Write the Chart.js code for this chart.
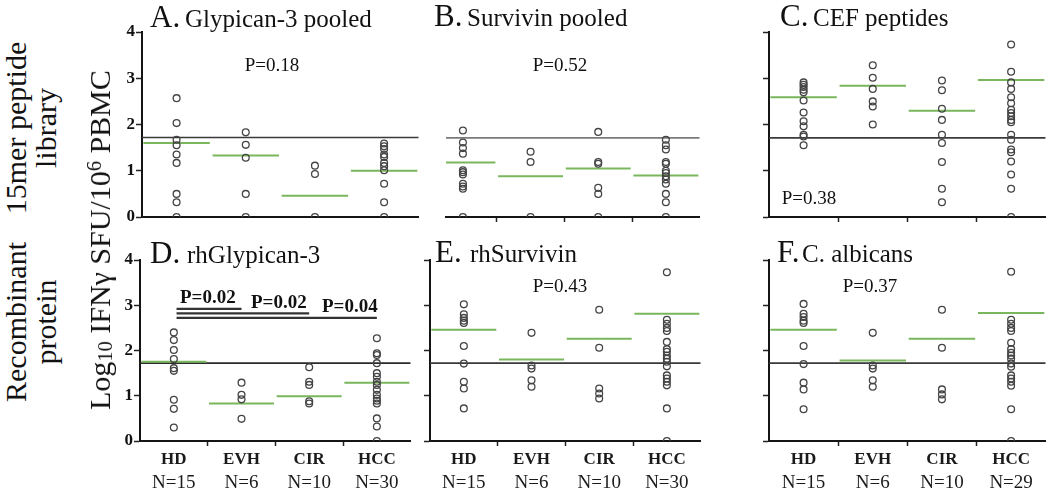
<!DOCTYPE html>
<html><head><meta charset="utf-8">
<script src="https://cdn.jsdelivr.net/npm/chart.js@4.4.1/dist/chart.umd.min.js"></script>
<style>
html,body{margin:0;padding:0;background:#fff;}
#root{position:relative;width:1050px;height:494px;overflow:hidden;background:#fff;font-family:"Liberation Serif","Times New Roman",serif;color:#111;}
#root canvas{position:absolute;}
.t{position:absolute;white-space:nowrap;line-height:1;}
.rot{position:absolute;white-space:nowrap;transform:translate(-50%,-50%) rotate(-90deg);text-align:center;}
sub{font-size:68%;vertical-align:-0.12em;line-height:0;}
sup{font-size:68%;vertical-align:0.45em;line-height:0;}
</style></head><body><div id="root"></div>
<script>
// ---------- data ----------
const groups = ['HD', 'EVH', 'CIR', 'HCC'];
const nLabels30 = ['N=15', 'N=6', 'N=10', 'N=30'];
const nLabels29 = ['N=15', 'N=6', 'N=10', 'N=29'];
const yTickValues = [0, 1, 2, 3, 4];

// A. Glypican-3 pooled
const A_HD  = [2.57, 2.03, 1.67, 1.55, 1.35, 1.17, 0.50, 0.32, 0];
const A_EVH = [1.83, 1.56, 1.28, 0.50, 0];
const A_CIR = [1.11, 0.93, 0];
const A_HCC = [1.59, 1.53, 1.47, 1.35, 1.30, 1.17, 1.10, 1.01, 0.72, 0.32, 0];
const A_median = [1.60, 1.33, 0.46, 1.00];
const A_threshold = 1.72;

// B. Survivin pooled
const B_HD  = [1.87, 1.61, 1.49, 1.37, 1.01, 0.97, 0.92, 0.72, 0.66, 0.61, 0];
const B_EVH = [1.41, 1.19, 0];
const B_CIR = [1.84, 1.19, 1.15, 0.63, 0.50, 0];
const B_HCC = [1.67, 1.55, 1.46, 1.19, 1.15, 1.00, 0.95, 0.88, 0.81, 0.72, 0.50, 0.32, 0];
const B_median = [1.18, 0.88, 1.05, 0.90];
const B_threshold = 1.71;

// C. CEF peptides
const C_HD  = [2.91, 2.86, 2.81, 2.75, 2.70, 2.52, 2.26, 2.07, 1.96, 1.78, 1.74, 1.55];
const C_EVH = [3.28, 3.01, 2.77, 2.50, 2.39, 2.00];
const C_CIR = [2.95, 2.74, 2.34, 2.10, 1.78, 1.60, 1.19, 0.61, 0.32];
const C_HCC = [3.73, 3.14, 2.91, 2.77, 2.59, 2.46, 2.32, 2.25, 2.18, 2.10, 2.05, 1.78, 1.67, 1.46, 1.40, 1.20, 0.92, 0.61, 0];
const C_median = [2.59, 2.84, 2.30, 2.96];
const C_threshold = 1.71;

// D. rhGlypican-3
const D_HD  = [2.40, 2.23, 2.01, 1.81, 1.61, 1.55, 0.91, 0.71, 0.30];
const D_EVH = [1.29, 1.02, 0.92, 0.49];
const D_CIR = [1.63, 1.31, 1.24, 0.88, 0.83];
const D_HCC = [2.27, 1.94, 1.90, 1.72, 1.50, 1.42, 1.31, 1.24, 1.13, 1.02, 0.94, 0.89, 0.83, 0.50, 0.32, 0];
const D_median = [1.75, 0.83, 0.99, 1.29];
const D_threshold = 1.72;
const D_bracketEnds = [2, 3, 4];
const D_bracketLevels = [2.92, 2.82, 2.72];

// E. rhSurvivin
const E_HD  = [3.02, 2.80, 2.72, 2.66, 2.61, 2.10, 1.71, 1.31, 1.16, 0.72];
const E_EVH = [2.39, 1.67, 1.60, 1.34, 1.20];
const E_CIR = [2.90, 2.06, 1.16, 1.05, 0.94];
const E_HCC = [3.73, 2.68, 2.59, 2.50, 2.43, 2.19, 2.03, 1.97, 1.89, 1.82, 1.75, 1.65, 1.45, 1.38, 1.31, 1.23, 0.72, 0];
const E_median = [2.46, 1.80, 2.26, 2.81];
const E_threshold = 1.72;

// F. C. albicans
const F_HD  = [3.03, 2.81, 2.74, 2.66, 2.61, 2.10, 1.70, 1.29, 1.14, 0.70];
const F_EVH = [2.39, 1.67, 1.60, 1.34, 1.20];
const F_CIR = [2.90, 2.06, 1.14, 1.03, 0.92];
const F_HCC = [3.74, 2.68, 2.59, 2.50, 2.43, 2.17, 2.03, 1.95, 1.89, 1.82, 1.71, 1.64, 1.45, 1.38, 1.31, 1.22, 0.70, 0];
const F_median = [2.46, 1.78, 2.26, 2.83];
const F_threshold = 1.72;

// ---------- styling / layout ----------
const SERIF = '"Liberation Serif", "Times New Roman", serif';
const GREEN = '#7ab65c';
const DOT = '#444444';
const AXIS = '#151515';

const panels = [
  {g:[A_HD,A_EVH,A_CIR,A_HCC], med:A_median, thr:A_threshold, thrColor:'#3a3a3a', box:{L:142,R:420,T:32,B:217}, min:0.5, yLabels:true,  yAxis:true,  xTicks:false, n:null},
  {g:[B_HD,B_EVH,B_CIR,B_HCC], med:B_median, thr:B_threshold, thrColor:'#7a7a7a', box:{L:446,R:701,T:32,B:217}, min:0.75, yLabels:false, yAxis:false, xTicks:true, n:null},
  {g:[C_HD,C_EVH,C_CIR,C_HCC], med:C_median, thr:C_threshold, thrColor:'#3a3a3a', box:{L:769,R:1047,T:32,B:217}, min:0.5, yLabels:false, yAxis:true, xTicks:true, n:null},
  {g:[D_HD,D_EVH,D_CIR,D_HCC], med:D_median, thr:D_threshold, thrColor:'#2a2a2a', box:{L:140,R:412,T:260,B:441}, min:0.5, yLabels:true,  yAxis:true, xTicks:true, n:nLabels30, brackets:true},
  {g:[E_HD,E_EVH,E_CIR,E_HCC], med:E_median, thr:E_threshold, thrColor:'#3a3a3a', box:{L:430,R:702,T:260,B:441}, min:0.5, yLabels:false, yAxis:true, xTicks:true, n:nLabels30},
  {g:[F_HD,F_EVH,F_CIR,F_HCC], med:F_median, thr:F_threshold, thrColor:'#3a3a3a', box:{L:769,R:1047,T:260,B:441}, min:0.5, yLabels:false, yAxis:true, xTicks:true, n:nLabels29}
];

const root = document.getElementById('root');

function xTickVals(min){ return [min, 1, 1.5, 2, 2.5, 3, 3.5, 4, 4.5]; }

function buildPanel(p){
  const W = 44, P = 14, RP = 4;
  const Hx = p.n ? 26 : 12;
  const Hx2 = p.n ? 30 : 0;
  const cw = (p.box.R - p.box.L) + W + RP;
  const ch = (p.box.B - p.box.T) + P + Hx + Hx2;
  const c = document.createElement('canvas');
  c.width = cw; c.height = ch;
  c.style.left = (p.box.L - W) + 'px';
  c.style.top = (p.box.T - P) + 'px';
  c.style.width = cw + 'px'; c.style.height = ch + 'px';
  root.appendChild(c);

  const datasets = [];
  datasets.push({type:'line', data:[{x:p.min, y:p.thr}, {x:4.5, y:p.thr}], borderColor:p.thrColor, borderWidth:1.6, pointRadius:0, order:3});
  const medData = [];
  p.med.forEach((m, i) => { medData.push({x:i+1-0.48, y:m}, {x:i+1+0.48, y:m}, {x:i+1.5, y:null}); });
  datasets.push({type:'line', data:medData, borderColor:GREEN, borderWidth:2, pointRadius:0, spanGaps:false, order:2});
  if (p.brackets){
    D_bracketEnds.forEach((end, k) => {
      datasets.push({type:'line', data:[{x:1.04, y:D_bracketLevels[k]}, {x:end, y:D_bracketLevels[k]}], borderColor:'#333333', borderWidth:2.2, pointRadius:0, order:2, clip:false});
    });
  }
  const pts = [];
  p.g.forEach((arr, i) => arr.forEach(v => pts.push({x:i+1, y:v})));
  datasets.push({type:'scatter', data:pts, showLine:false, pointRadius:3.4, pointBorderWidth:1.3,
    pointBorderColor:DOT, pointBackgroundColor:'rgba(0,0,0,0)', borderColor:DOT, backgroundColor:'rgba(0,0,0,0)',
    clip:{left:10, top:10, right:10, bottom:0}, order:1});

  const scales = {
    x: {type:'linear', min:p.min, max:4.5, position:'bottom',
      afterBuildTicks: s => { s.ticks = xTickVals(p.min).map(v => ({value:v})); },
      afterFit: s => { s.height = Hx; },
      ticks: {display: !!p.n, autoSkip:false, maxRotation:0, minRotation:0, padding:3,
        font:{family:SERIF, size:17, weight:'bold'}, color:'#1a1a1a',
        callback: v => Number.isInteger(v) ? groups[v-1] : ''},
      grid: {drawOnChartArea:false, drawTicks:true, tickLength:5, tickWidth:1.5,
        color:'rgba(0,0,0,0)',
        tickColor: ctx => (p.xTicks && ctx.tick && !Number.isInteger(ctx.tick.value) && ctx.tick.value > 1 && ctx.tick.value < 4) ? '#222' : 'rgba(0,0,0,0)'},
      border: {display:true, color:AXIS, width:2}
    },
    y: {type:'linear', min:0, max:4, position:'left',
      afterBuildTicks: s => { s.ticks = yTickValues.map(v => ({value:v})); },
      afterFit: s => { s.width = W; },
      ticks: {display:p.yLabels, padding:1, font:{family:SERIF, size:17, weight:'bold'}, color:'#111'},
      grid: {display:p.yAxis, drawOnChartArea:false, tickLength:6, tickWidth:1.5, tickColor:'#222', color:'rgba(0,0,0,0)'},
      border: {display:p.yAxis, color:AXIS, width:2}
    }
  };
  if (p.n){
    scales.x2 = {type:'linear', min:p.min, max:4.5, position:'bottom',
      afterBuildTicks: s => { s.ticks = [1,2,3,4].map(v => ({value:v})); },
      afterFit: s => { s.height = Hx2; },
      ticks: {autoSkip:false, maxRotation:0, minRotation:0, padding:5, font:{family:SERIF, size:19}, color:'#1a1a1a',
        callback: v => p.n[v-1]},
      grid: {display:false, drawTicks:false}, border:{display:false}
    };
  }

  new Chart(c, {
    type:'scatter',
    data:{datasets},
    options:{
      responsive:false, animation:false, devicePixelRatio:1,
      layout:{padding:{top:P, right:RP, left:0, bottom:0}},
      plugins:{legend:{display:false}, tooltip:{enabled:false}, title:{display:false}},
      scales
    }
  });
}
panels.forEach(buildPanel);

// ---------- text ----------
function addText(html, x, base, size, opts = {}){
  const d = document.createElement('div');
  d.className = 't';
  d.innerHTML = html;
  d.style.fontSize = size + 'px';
  d.style.top = (base - 0.8375 * size) + 'px';
  if (opts.center){ d.style.left = x + 'px'; d.style.transform = 'translateX(-50%)'; }
  else d.style.left = x + 'px';
  if (opts.bold) d.style.fontWeight = 'bold';
  d.style.color = opts.color || '#111';
  root.appendChild(d);
}
function addRot(html, cx, cy, size, lh){
  const d = document.createElement('div');
  d.className = 'rot';
  d.innerHTML = html;
  d.style.fontSize = size + 'px';
  d.style.lineHeight = lh + 'px';
  d.style.left = cx + 'px';
  d.style.top = cy + 'px';
  root.appendChild(d);
}
// titles
addText('A.', 150, 27, 31); addText('Glypican-3 pooled', 185, 27, 25);
addText('B.', 434, 26, 31); addText('Survivin pooled', 467, 26, 25);
addText('C.', 780, 26, 31); addText('CEF peptides', 813, 26, 25);
addText('D.', 150, 263, 31); addText('rhGlypican-3', 187, 263, 25);
addText('E.', 435, 262, 31); addText('rhSurvivin', 470, 262, 25);
addText('F.', 777, 262, 31); addText('C. albicans', 802, 262, 25);
// p-values
addText('P=0.18', 272, 71, 19, {center:true});
addText('P=0.52', 560, 71, 19, {center:true});
addText('P=0.38', 809, 204, 19, {center:true});
addText('P=0.43', 560, 292, 19, {center:true});
addText('P=0.37', 870, 292, 19, {center:true});
addText('P=0.02', 180, 303, 19, {bold:true});
addText('P=0.02', 251, 308, 19, {bold:true});
addText('P=0.04', 322, 311.5, 19, {bold:true});
// rotated labels
addRot('15mer peptide<br>library', 31, 128, 30, 30);
addRot('Recombinant<br>protein', 31, 322, 30, 30);
addRot('Log<sub>10</sub> IFNγ SFU/10<sup>6</sup> PBMC', 100, 240, 30, 30);
</script>
</body></html>
